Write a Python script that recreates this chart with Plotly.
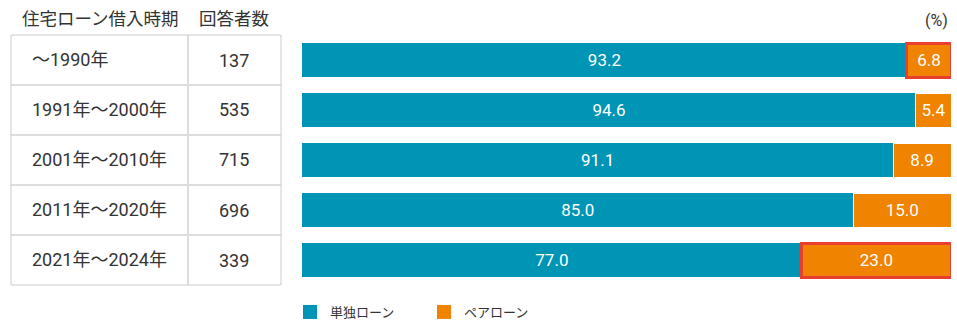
import plotly.graph_objects as go

# Survey data: loan type share by borrowing period
periods = ["〜1990年", "1991年〜2000年", "2001年〜2010年", "2011年〜2020年", "2021年〜2024年"]
respondents = [137, 535, 715, 696, 339]
single_loan = [93.2, 94.6, 91.1, 85.0, 77.0]
pair_loan = [6.8, 5.4, 8.9, 15.0, 23.0]
highlighted = [True, False, False, False, True]
series_names = ["単独ローン", "ペアローン"]

TEAL = "#0095b5"
ORANGE = "#f08300"
RED = "#ea3f2f"
TEXT = "#333333"
FONT = "Roboto, 'Noto Sans CJK JP', sans-serif"

W, H = 957, 323
top_px, bottom_px = 35, 285
x_left_px, x_right_px = 302, 951

fig = go.Figure()
fig.add_trace(go.Bar(
    y=periods, x=single_loan, orientation="h", name=series_names[0],
    marker=dict(color=TEAL, line=dict(width=0)),
    text=[f"{v:.1f}" for v in single_loan], textposition="inside",
    insidetextanchor="middle", constraintext="none",
    textfont=dict(color="white", size=17, family=FONT),
    showlegend=False,
))
fig.add_trace(go.Bar(
    y=periods, x=pair_loan, orientation="h", name=series_names[1],
    marker=dict(
        color=ORANGE,
        line=dict(color=[RED if h else "white" for h in highlighted],
                  width=[3 if h else 1 for h in highlighted]),
    ),
    text=[f"{v:.1f}" for v in pair_loan], textposition="inside",
    insidetextanchor="middle", constraintext="none",
    textfont=dict(color="white", size=17, family=FONT),
    showlegend=False,
))
# Legend entries drawn as plain squares
for name, color in zip(series_names, [TEAL, ORANGE]):
    fig.add_trace(go.Scatter(
        x=[None], y=[None], mode="markers", name=name,
        marker=dict(symbol="square", size=14, color=color),
        showlegend=True,
    ))


def px_x(p):
    return p / W


def px_y(p):
    return 1 - p / H


# Table on the left: outer border, column divider, row dividers
tbl_l, tbl_r, tbl_c = 11, 281, 188
shapes = []
for i in range(1, len(periods)):
    yy = top_px + 50 * i
    shapes.append(dict(type="line", xref="paper", yref="paper",
                       x0=px_x(tbl_l), x1=px_x(tbl_r), y0=px_y(yy), y1=px_y(yy),
                       line=dict(color="#dddddd", width=2)))
shapes.append(dict(type="line", xref="paper", yref="paper",
                   x0=px_x(tbl_c), x1=px_x(tbl_c), y0=px_y(top_px), y1=px_y(bottom_px),
                   line=dict(color="#dddddd", width=2)))
shapes.append(dict(type="rect", xref="paper", yref="paper",
                   x0=px_x(tbl_l), x1=px_x(tbl_r), y0=px_y(top_px), y1=px_y(bottom_px),
                   line=dict(color="#cccccc", width=1)))


def label(text, x, y, size, xanchor="center"):
    return dict(text=text, x=px_x(x), y=px_y(y), xref="paper", yref="paper",
                xanchor=xanchor, yanchor="middle", showarrow=False,
                font=dict(size=size, color=TEXT, family=FONT))


annotations = [
    label("住宅ローン借入時期", 100, 19, 17.5),
    label("回答者数", 234, 19, 17.5),
    label("(%)", 950, 21, 16, xanchor="right"),
]
for i, (p, n) in enumerate(zip(periods, respondents)):
    yc = top_px + 25 + 50 * i
    annotations.append(label(p, 30, yc - 1, 18, xanchor="left"))
    annotations.append(label(str(n), 234, yc, 18))

fig.update_layout(
    width=W, height=H,
    margin=dict(l=0, r=0, t=0, b=0, autoexpand=False),
    barmode="stack", bargap=0.32,
    plot_bgcolor="white", paper_bgcolor="white",
    xaxis=dict(domain=[px_x(x_left_px), px_x(x_right_px)], range=[0, 100],
               visible=False, fixedrange=True),
    yaxis=dict(domain=[px_y(bottom_px), px_y(top_px)], autorange="reversed",
               visible=False, fixedrange=True),
    showlegend=True,
    legend=dict(orientation="h", x=px_x(290), xanchor="left", y=px_y(312), yanchor="middle",
                entrywidth=89, entrywidthmode="pixels", traceorder="normal",
                font=dict(size=13, color=TEXT, family=FONT)),
    shapes=shapes, annotations=annotations,
)

fig.write_html("out.html")
